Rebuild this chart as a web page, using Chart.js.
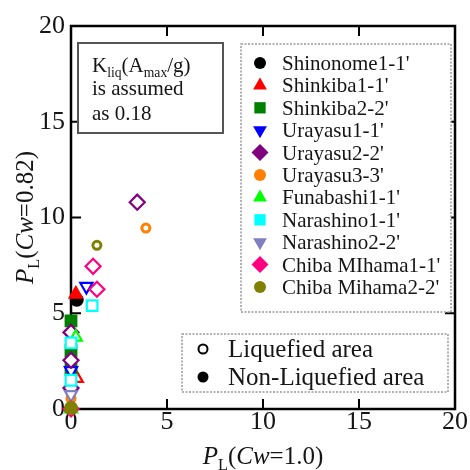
<!DOCTYPE html>
<html>
<head>
<meta charset="utf-8">
<script src="https://cdn.jsdelivr.net/npm/chart.js@4.4.1/dist/chart.umd.min.js"></script>
<style>
  body { margin: 0; background: #fff; }
  #wrap { width: 470px; height: 470px; }
</style>
</head>
<body>
<div id="wrap"><canvas id="plot" width="470" height="470"></canvas></div>
<script>
// site names in legend order
const seriesLabels = ["Shinonome1-1'", "Shinkiba1-1'", "Shinkiba2-2'", "Urayasu1-1'", "Urayasu2-2'",
  "Urayasu3-3'", "Funabashi1-1'", "Narashino1-1'", "Narashino2-2'", "Chiba MIhama1-1'", "Chiba Mihama2-2'"];

// PL (Cw=1.0) per site
const xValues = [
  [0.3],
  [0.25, 0.3],
  [0, 0, 0],
  [0.8, 0],
  [3.45, 0, 0, 0],
  [3.9, 0],
  [0.25, 0],
  [1.1, 0, 0],
  [0],
  [1.15, 1.35, 0],
  [1.35, 0]
];
// PL (Cw=0.82) per site
const yValues = [
  [5.7],
  [6.0, 1.6],
  [4.6, 3.05, 2.05],
  [6.4, 2.0],
  [10.8, 4.0, 2.55, 1.1],
  [9.45, 0.55],
  [3.75, 0],
  [5.4, 3.45, 1.5],
  [0.75],
  [7.45, 6.25, 0],
  [8.55, 0.05]
];
// true = liquefied (open marker), false = non-liquefied (filled)
const liquefied = [
  [false],
  [false, true],
  [false, false, false],
  [true, true],
  [true, true, true, true],
  [true, true],
  [true, true],
  [true, true, true],
  [true],
  [true, true, true],
  [true, false]
];
const tickValues = [0, 5, 10, 15, 20];

// marker look per site
const colors = ["#000000", "#ff0000", "#008000", "#0000ff", "#800080", "#ff8000",
  "#00ff00", "#00ffff", "#8080c0", "#ff0080", "#808000"];
const shapes = ["circle", "triangle", "rect", "triangle", "rectRot", "circle",
  "triangle", "rect", "triangle", "rectRot", "circle"];
const rotations = [0, 0, 0, 180, 0, 0, 0, 0, 180, 0, 0];

const serif = "'Liberation Serif', 'DejaVu Serif', serif";
const ink = "#151515";

function markerRadius(shape, open) {
  if (shape === "circle") return open ? 4 : 5.5;
  if (shape === "rectRot") return 7.5;
  if (shape === "rect") return 7.5;
  return 7;
}

const datasets = seriesLabels.map((name, i) => ({
  label: name,
  data: xValues[i].map((x, j) => ({ x: x, y: yValues[i][j] })),
  pointStyle: shapes[i],
  rotation: rotations[i],
  pointRadius: liquefied[i].map(o => markerRadius(shapes[i], o)),
  pointBorderWidth: shapes[i] === "circle" ? 3 : 2.2,
  borderColor: colors[i],
  pointBackgroundColor: liquefied[i].map(o => o ? "#ffffff" : colors[i]),
  pointBorderColor: colors[i],
  pointHoverRadius: liquefied[i].map(o => markerRadius(shapes[i], o)),
  showLine: false,
  clip: false,
  order: seriesLabels.length - i
}));

// text with italic / subscript pieces
function richWidth(ctx, parts, size) {
  let w = 0;
  parts.forEach(p => {
    const s = p.sub ? size * 0.65 : size;
    ctx.font = (p.it ? "italic " : "") + s + "px " + serif;
    w += ctx.measureText(p.t).width;
  });
  return w;
}
function drawRich(ctx, parts, x, y, size) {
  parts.forEach(p => {
    const s = p.sub ? size * 0.65 : size;
    ctx.font = (p.it ? "italic " : "") + s + "px " + serif;
    ctx.fillText(p.t, x, p.sub ? y + size * 0.22 : y);
    x += ctx.measureText(p.t).width;
  });
}

const decor = {
  id: "decor",
  beforeDatasetsDraw(chart) {
    const { ctx, chartArea: a, scales } = chart;
    ctx.save();
    ctx.strokeStyle = "#000";
    ctx.lineWidth = 2.5;
    ctx.strokeRect(a.left, a.top, a.right - a.left, a.bottom - a.top);
    ctx.lineWidth = 2;
    tickValues.slice(1, -1).forEach(v => {
      const px = scales.x.getPixelForValue(v);
      const py = scales.y.getPixelForValue(v);
      ctx.beginPath();
      ctx.moveTo(px, a.bottom); ctx.lineTo(px, a.bottom - 10);
      ctx.moveTo(px, a.top); ctx.lineTo(px, a.top + 10);
      ctx.moveTo(a.left, py); ctx.lineTo(a.left + 10, py);
      ctx.moveTo(a.right, py); ctx.lineTo(a.right - 10, py);
      ctx.stroke();
    });
    ctx.restore();
  },
  afterDraw(chart) {
    const { ctx, chartArea: a } = chart;
    const H = Chart.helpers;
    ctx.save();
    ctx.fillStyle = ink;
    ctx.textBaseline = "alphabetic";

    // axis titles
    const xt = [{ t: "P", it: true }, { t: "L", sub: true }, { t: "(" }, { t: "Cw", it: true }, { t: "=1.0)" }];
    const yt = [{ t: "P", it: true }, { t: "L", sub: true }, { t: "(" }, { t: "Cw", it: true }, { t: "=0.82)" }];
    const cx = (a.left + a.right) / 2;
    drawRich(ctx, xt, cx - richWidth(ctx, xt, 25) / 2, 464, 25);
    ctx.save();
    ctx.translate(33, (a.top + a.bottom) / 2);
    ctx.rotate(-Math.PI / 2);
    drawRich(ctx, yt, -richWidth(ctx, yt, 25) / 2, 0, 25);
    ctx.restore();

    // note box
    ctx.strokeStyle = "#555";
    ctx.lineWidth = 2;
    ctx.fillStyle = "#fff";
    ctx.fillRect(78, 43, 145, 90);
    ctx.strokeRect(78, 43, 145, 90);
    ctx.fillStyle = ink;
    drawRich(ctx, [{ t: "K" }, { t: "liq", sub: true }, { t: "(A" }, { t: "max", sub: true }, { t: "/g)" }], 92, 72, 21);
    ctx.font = "21px " + serif;
    ctx.fillText("is assumed", 92, 95);
    ctx.fillText("as 0.18", 92, 120);

    // site legend
    ctx.setLineDash([2, 1.5]);
    ctx.strokeStyle = "#999";
    ctx.lineWidth = 1.5;
    ctx.fillStyle = "#fff";
    ctx.fillRect(241, 44, 210, 268);
    ctx.strokeRect(241, 44, 210, 268);
    ctx.setLineDash([]);
    seriesLabels.forEach((name, i) => {
      const y = 63 + i * 22.4;
      ctx.fillStyle = colors[i];
      ctx.strokeStyle = colors[i];
      const r = shapes[i] === "circle" ? 6 : shapes[i] === "rectRot" ? 8.5 : 8;
      H.drawPoint(ctx, { pointStyle: shapes[i], radius: r, rotation: rotations[i], borderWidth: 0 }, 260, y);
      ctx.fillStyle = ink;
      ctx.font = "21px " + serif;
      ctx.fillText(name, 282, y + 7);
    });

    // open / filled legend
    ctx.setLineDash([2, 1.5]);
    ctx.strokeStyle = "#999";
    ctx.lineWidth = 1.5;
    ctx.fillStyle = "#fff";
    ctx.fillRect(182, 334, 266, 58);
    ctx.strokeRect(182, 334, 266, 58);
    ctx.setLineDash([]);
    ctx.strokeStyle = "#000";
    ctx.lineWidth = 2;
    ctx.fillStyle = "#fff";
    H.drawPoint(ctx, { pointStyle: "circle", radius: 4.5, borderWidth: 2 }, 203, 349);
    ctx.fillStyle = "#000";
    H.drawPoint(ctx, { pointStyle: "circle", radius: 5.5, borderWidth: 0 }, 203, 377);
    ctx.fillStyle = ink;
    ctx.font = "25px " + serif;
    ctx.fillText("Liquefied area", 228, 357);
    ctx.fillText("Non-Liquefied area", 228, 385);
    ctx.restore();
  }
};

const tickFont = { family: serif, size: 26, lineHeight: 1 };

new Chart(document.getElementById("plot"), {
  type: "scatter",
  data: { datasets: datasets },
  options: {
    responsive: false,
    animation: false,
    layout: { padding: { left: 0, top: 26, right: 15, bottom: 0 } },
    plugins: { legend: { display: false }, tooltip: { enabled: false } },
    scales: {
      x: {
        type: "linear", min: 0, max: 20,
        afterFit: s => { s.height = 61; },
        afterBuildTicks: s => { s.ticks = tickValues.map(v => ({ value: v })); },
        ticks: { font: tickFont, color: ink, padding: 0, maxRotation: 0 },
        grid: { display: false, drawTicks: false },
        border: { display: false }
      },
      y: {
        type: "linear", min: 0, max: 20,
        afterFit: s => { s.width = 71; },
        afterBuildTicks: s => { s.ticks = tickValues.map(v => ({ value: v })); },
        ticks: { font: tickFont, color: ink, padding: 6 },
        grid: { display: false, drawTicks: false },
        border: { display: false }
      }
    }
  },
  plugins: [decor]
});
</script>
</body>
</html>
